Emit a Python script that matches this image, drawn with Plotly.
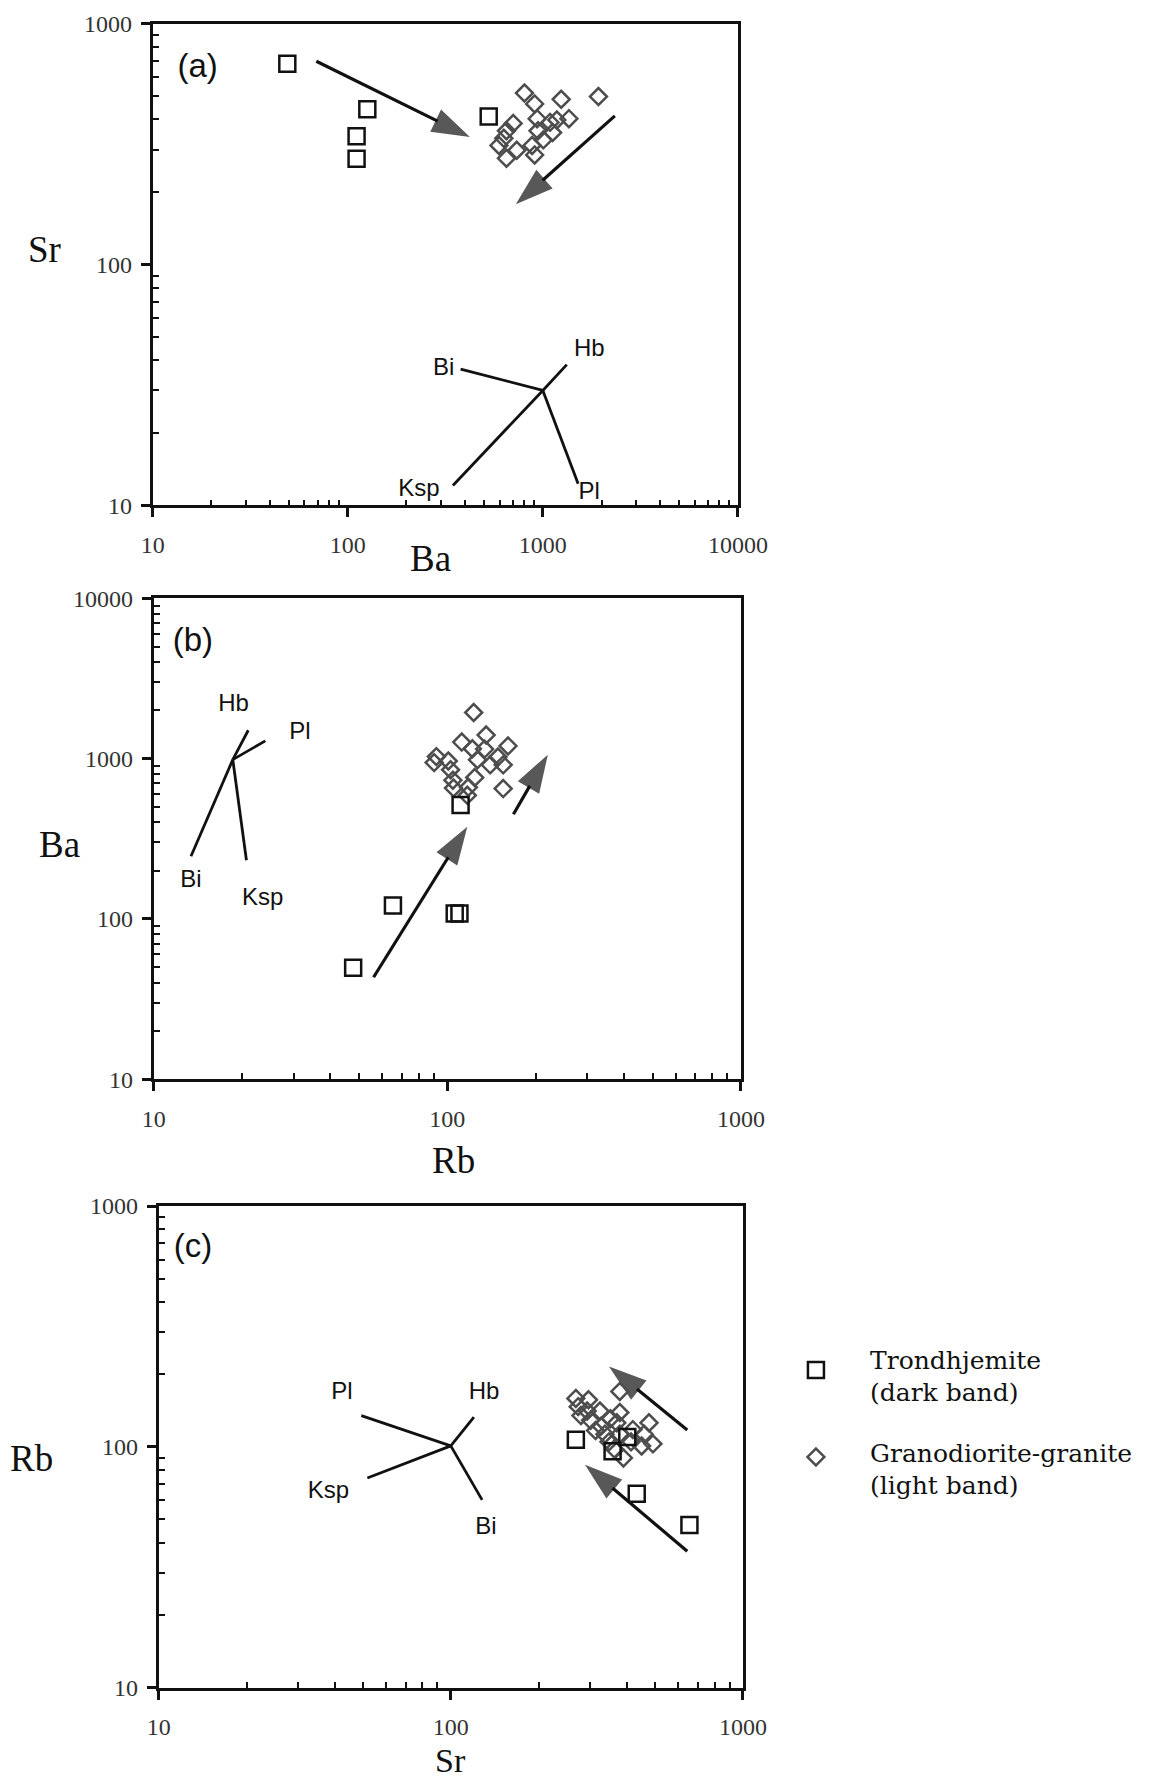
import numpy as np
import plotly.graph_objects as go

# ======================= DATA =======================
# ---- Panel (a): Sr vs Ba ----
a_trond_ba = [49, 126, 111, 111, 528]
a_trond_sr = [682, 441, 341, 275, 411]
a_gran_ba = [805, 908, 1242, 1928, 705, 651, 596, 651, 735, 935, 945, 881,
             908, 1089, 1122, 1361, 1006, 1180, 631]
a_gran_sr = [515, 464, 485, 498, 385, 359, 312, 276, 298, 403, 359, 312,
             285, 389, 353, 403, 329, 398, 334]
a_min_names = ["Bi", "Hb", "Ksp", "Pl"]
a_min_origin_ba = 1000
a_min_origin_sr = 30
a_min_end_ba = [379, 1327, 346, 1517]
a_min_end_sr = [36.8, 38.4, 12.1, 12.3]
a_min_lab_ba = [310, 1730, 232, 1730]
a_min_lab_sr = [36.8, 44.3, 11.6, 11.3]
a_arrow_from_ba = [69, 2340]
a_arrow_from_sr = [698, 414]
a_arrow_to_ba = [423, 727]
a_arrow_to_sr = [338, 178]

# ---- Panel (b): Ba vs Rb ----
b_trond_rb = [47.8, 65.3, 106, 110, 111]
b_trond_ba = [49.6, 121, 108, 108, 513]
b_gran_rb = [91.8, 90.2, 100.8, 102.6, 104.5, 105, 112, 123, 121.7, 135.6,
             134, 126.7, 140, 148.8, 161, 155, 124, 118, 155, 117]
b_gran_ba = [1029, 944, 966, 852, 733, 655, 1268, 1939, 1152, 1403,
             1146, 983, 914, 1023, 1199, 914, 762, 662, 650, 590]
b_min_names = ["Hb", "Pl", "Bi", "Ksp"]
b_min_origin_rb = 18.6
b_min_origin_ba = 985
b_min_end_rb = [21, 24, 13.4, 20.7]
b_min_end_ba = [1503, 1290, 246, 232]
b_min_lab_rb = [18.7, 31.5, 13.4, 23.5]
b_min_lab_ba = [2172, 1436, 173, 133]
b_arrow_from_rb = [56.1, 168]
b_arrow_from_ba = [43.2, 450]
b_arrow_to_rb = [117, 220]
b_arrow_to_ba = [376, 1058]

# ---- Panel (c): Rb vs Sr ----
c_trond_sr = [268, 402, 358, 433, 656]
c_trond_rb = [107, 110, 96, 64, 47.4]
c_gran_sr = [268, 296, 273, 293, 279, 324, 301, 327, 352, 379, 379, 370,
             337, 379, 414, 477, 459, 492, 450, 390, 363, 313, 348, 420]
c_gran_rb = [159, 157, 147, 141, 135, 141, 129, 122, 131, 170, 139, 126,
             113, 113, 105, 126, 113, 103, 101, 90, 98, 117, 105, 118]
c_min_names = ["Pl", "Hb", "Ksp", "Bi"]
c_min_origin_sr = 100
c_min_origin_rb = 101
c_min_end_sr = [49.4, 120, 51.8, 128]
c_min_end_rb = [135, 133, 74.3, 60.3]
c_min_lab_sr = [42.4, 130, 38.1, 132]
c_min_lab_rb = [167, 167, 65.3, 46]
c_arrow_from_sr = [645, 645]
c_arrow_from_rb = [117.5, 36.9]
c_arrow_to_sr = [348, 288]
c_arrow_to_rb = [216, 84.3]

# panel tags and their data-coordinate anchors
panel_tags = ["(a)", "(b)", "(c)"]
tag_x = [17, 13.6, 13.1]
tag_y = [648, 5270, 667]

# axis tick labels
tick_vals_a_x = [10, 100, 1000, 10000]
tick_vals_a_y = [10, 100, 1000]
tick_vals_b_x = [10, 100, 1000]
tick_vals_b_y = [10, 100, 1000, 10000]
tick_vals_c_x = [10, 100, 1000]
tick_vals_c_y = [10, 100, 1000]

legend_names = ["Trondhjemite", "(dark band)", "Granodiorite-granite", "(light band)"]

# ======================= STYLE / PAGE GEOMETRY =======================
# target positions below are in pixels of the 1151 x 1783 page; the page is
# rendered with a small inset/scale, which these constants compensate for.
O = 11.4
SX, SY = 0.964, 0.986
FW, FH = 1180, 1800
SERIF = "Liberation Serif, Times New Roman, serif"
WIDE_SERIF = "DejaVu Serif, serif"
SANS = "Liberation Sans, Arial, sans-serif"
BLACK = "#111111"
GRAY = "#4d4d4d"

fig = go.Figure()


def px(xx):
    return (xx - O) / SX / FW


def py(yy):
    return 1 - (yy - O) / SY / FH


def dom_x(l, r):
    return [px(l), px(r)]


def dom_y(t, b):
    return [py(b), py(t)]


def minor_vals(lo_exp, hi_exp):
    return [m * 10 ** e for e in range(lo_exp, hi_exp) for m in range(2, 10)]


def axis(domain, rng, tickvals, anchor, lo, hi):
    return dict(
        type="log", domain=domain, range=rng, anchor=anchor,
        showline=True, linewidth=2.7, linecolor=BLACK, mirror=True,
        showgrid=False, zeroline=False,
        tickmode="array", tickvals=tickvals, ticktext=[str(v) for v in tickvals],
        ticks="outside", ticklen=9, tickwidth=2.7, tickcolor=BLACK,
        tickfont=dict(family=SERIF, size=24, color="#333333"),
        minor=dict(ticks="inside", ticklen=6, tickwidth=1.8, tickcolor=BLACK,
                   tickmode="array", tickvals=minor_vals(lo, hi), showgrid=False),
    )


layout_axes = {
    "xaxis": axis(dom_x(152, 737), [1, 4], tick_vals_a_x, "y", 1, 4),
    "yaxis": axis(dom_y(22, 504), [1, 3], tick_vals_a_y, "x", 1, 3),
    "xaxis2": axis(dom_x(153, 740), [1, 3], tick_vals_b_x, "y2", 1, 3),
    "yaxis2": axis(dom_y(597, 1078), [1, 4], tick_vals_b_y, "x2", 1, 4),
    "xaxis3": axis(dom_x(158, 742), [1, 3], tick_vals_c_x, "y3", 1, 3),
    "yaxis3": axis(dom_y(1205, 1687), [1, 3], tick_vals_c_y, "x3", 1, 3),
}
for k in ["xaxis", "xaxis2", "xaxis3"]:
    layout_axes[k]["ticklabelstandoff"] = 7
for k in ["yaxis", "yaxis2", "yaxis3"]:
    layout_axes[k]["ticklabelstandoff"] = 4


def add_panel(xa, ya, trond_x, trond_y, gran_x, gran_y,
              names, ox, oy, ex, ey, lx, ly,
              afx, afy, atx, aty, tag, tx, ty):
    # mineral vectors
    vx, vy = [], []
    for i in range(len(names)):
        vx += [ox, ex[i], None]
        vy += [oy, ey[i], None]
    fig.add_trace(go.Scatter(x=vx, y=vy, mode="lines", xaxis=xa, yaxis=ya,
                             line=dict(color=BLACK, width=2.8), showlegend=False,
                             hoverinfo="skip"))
    fig.add_trace(go.Scatter(x=lx, y=ly, mode="text", text=names, xaxis=xa, yaxis=ya,
                             textfont=dict(family=SANS, size=24, color=BLACK),
                             showlegend=False, hoverinfo="skip"))
    # fractionation arrows
    for i in range(len(afx)):
        fig.add_trace(go.Scatter(
            x=[afx[i], atx[i]], y=[afy[i], aty[i]], mode="lines+markers",
            xaxis=xa, yaxis=ya, showlegend=False, hoverinfo="skip",
            line=dict(color=BLACK, width=3.2),
            marker=dict(symbol="arrow", size=[0, 40], angleref="previous",
                        color=BLACK, line=dict(width=0)),
        ))
    # data
    fig.add_trace(go.Scatter(x=gran_x, y=gran_y, mode="markers", xaxis=xa, yaxis=ya,
                             marker=dict(symbol="diamond-open", size=13, color=GRAY,
                                         line=dict(width=2.5)),
                             showlegend=False))
    fig.add_trace(go.Scatter(x=trond_x, y=trond_y, mode="markers", xaxis=xa, yaxis=ya,
                             marker=dict(symbol="square-open", size=16, color=BLACK,
                                         line=dict(width=2.5)),
                             showlegend=False))
    fig.add_trace(go.Scatter(x=[tx], y=[ty], mode="text", text=[tag], xaxis=xa, yaxis=ya,
                             textfont=dict(family=SANS, size=33, color=BLACK),
                             showlegend=False, hoverinfo="skip"))


add_panel("x", "y", a_trond_ba, a_trond_sr, a_gran_ba, a_gran_sr,
          a_min_names, a_min_origin_ba, a_min_origin_sr, a_min_end_ba, a_min_end_sr,
          a_min_lab_ba, a_min_lab_sr,
          a_arrow_from_ba, a_arrow_from_sr, a_arrow_to_ba, a_arrow_to_sr,
          panel_tags[0], tag_x[0], tag_y[0])
add_panel("x2", "y2", b_trond_rb, b_trond_ba, b_gran_rb, b_gran_ba,
          b_min_names, b_min_origin_rb, b_min_origin_ba, b_min_end_rb, b_min_end_ba,
          b_min_lab_rb, b_min_lab_ba,
          b_arrow_from_rb, b_arrow_from_ba, b_arrow_to_rb, b_arrow_to_ba,
          panel_tags[1], tag_x[1], tag_y[1])
add_panel("x3", "y3", c_trond_sr, c_trond_rb, c_gran_sr, c_gran_rb,
          c_min_names, c_min_origin_sr, c_min_origin_rb, c_min_end_sr, c_min_end_rb,
          c_min_lab_sr, c_min_lab_rb,
          c_arrow_from_sr, c_arrow_from_rb, c_arrow_to_sr, c_arrow_to_rb,
          panel_tags[2], tag_x[2], tag_y[2])

# ---- legend (drawn on a hidden page-pixel axis spanning the figure) ----
layout_axes["xaxis4"] = dict(domain=[0, 1], range=[O, O + SX * FW], visible=False,
                             fixedrange=True, anchor="y4")
layout_axes["yaxis4"] = dict(domain=[0, 1], range=[O + SY * FH, O], visible=False,
                             fixedrange=True, anchor="x4")
fig.add_trace(go.Scatter(x=[815], y=[1369], mode="markers", xaxis="x4", yaxis="y4",
                         marker=dict(symbol="square-open", size=16, color=BLACK,
                                     line=dict(width=2.5)),
                         showlegend=False, hoverinfo="skip"))
fig.add_trace(go.Scatter(x=[815], y=[1456], mode="markers", xaxis="x4", yaxis="y4",
                         marker=dict(symbol="diamond-open", size=13, color=GRAY,
                                     line=dict(width=2.5)),
                         showlegend=False, hoverinfo="skip"))
leg_y = [1360, 1392, 1453, 1485]
annotations = []
for name, yy in zip(legend_names, leg_y):
    annotations.append(dict(x=px(868), y=py(yy), xref="paper", yref="paper",
                            text=name, showarrow=False, xanchor="left", yanchor="middle",
                            borderpad=0,
                            font=dict(family=WIDE_SERIF, size=25, color=BLACK)))

# ---- axis titles ----
titles = [("Sr", 44, 248, 37), ("Ba", 430, 557, 37), ("Ba", 59, 843, 37),
          ("Rb", 453, 1159, 37), ("Rb", 31, 1458, 37), ("Sr", 450, 1760, 34)]
for t, xx, yy, fs in titles:
    annotations.append(dict(x=px(xx), y=py(yy), xref="paper", yref="paper",
                            text=t, showarrow=False, xanchor="center", yanchor="middle",
                            borderpad=0,
                            font=dict(family=SERIF, size=fs, color=BLACK)))

fig.update_layout(
    width=FW, height=FH, margin=dict(l=0, r=0, t=0, b=0),
    paper_bgcolor="white", plot_bgcolor="rgba(0,0,0,0)",
    showlegend=False, annotations=annotations, **layout_axes,
)

fig.write_html("out.html")
